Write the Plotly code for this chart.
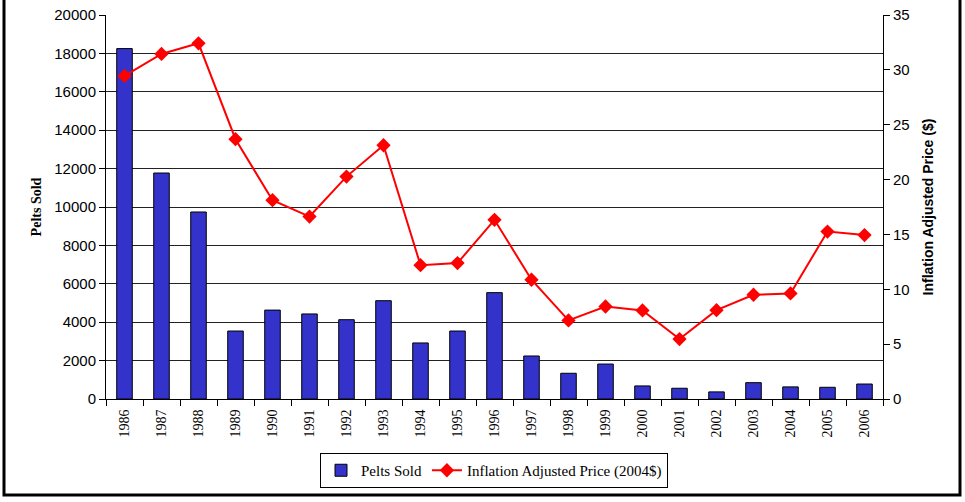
import plotly.graph_objects as go

years = [str(y) for y in range(1986, 2007)]
pelts_sold = [18250, 11770, 9740, 3540, 4630, 4430, 4130, 5120, 2920, 3540,
              5540, 2240, 1340, 1820, 680, 560, 370, 850, 630, 610, 780]
price_2004 = [29.45, 31.45, 32.42, 23.68, 18.12, 16.63, 20.27, 23.13, 12.2, 12.39,
              16.33, 10.87, 7.16, 8.43, 8.07, 5.46, 8.1, 9.5, 9.62, 15.26, 14.94]

left_ticks = list(range(0, 20001, 2000))
right_ticks = list(range(0, 36, 5))

fig = go.Figure()
fig.add_trace(go.Bar(
    x=years, y=pelts_sold, name="Pelts Sold",
    marker=dict(color="#3333CC", line=dict(color="black", width=1)),
    width=0.42, yaxis="y",
))
fig.add_trace(go.Scatter(
    x=years, y=price_2004, name="Inflation Adjusted Price (2004$)",
    mode="lines+markers",
    line=dict(color="#FF0000", width=2),
    marker=dict(symbol="diamond", size=11, color="#FF0000"),
    yaxis="y2",
))

L, R, T, B = 106, 82, 15, 103
H = 502 - T - B
W = 965 - L - R

def px(x):
    return (x - L) / W

def py(y):
    return (502 - B - y) / H

fig.update_layout(
    width=965, height=502,
    margin=dict(l=L, r=R, t=T, b=B, pad=0, autoexpand=False),
    paper_bgcolor="white", plot_bgcolor="white",
    showlegend=True,
    legend=dict(
        orientation="h", x=px(494), xanchor="center", y=py(453), yanchor="top",
        bordercolor="black", borderwidth=1, bgcolor="white",
        font=dict(family="Liberation Serif", size=15, color="black"),
        traceorder="normal", tracegroupgap=0,
    ),
    xaxis=dict(
        type="category", range=[-0.5, 20.5], automargin=False,
        showline=True, linecolor="black", linewidth=1,
        ticks="outside", ticklen=6, tickcolor="black", tickson="boundaries",
        ticklabelstandoff=4,
        tickangle=-90, tickfont=dict(family="Liberation Serif", size=14, color="black"),
        showgrid=False,
    ),
    yaxis=dict(
        range=[0, 20000], tickvals=left_ticks, ticktext=[str(v) for v in left_ticks],
        automargin=False,
        showline=True, linecolor="black", linewidth=1,
        ticks="outside", ticklen=6, tickcolor="black",
        showgrid=True, gridcolor="#222222", gridwidth=1,
        tickfont=dict(family="Liberation Sans", size=15, color="black"),
        title=dict(text="<b>Pelts Sold</b>", standoff=9,
                   font=dict(family="Liberation Serif", size=14, color="black")),
        zeroline=False,
    ),
    yaxis2=dict(
        range=[0, 35], tickvals=right_ticks, ticktext=[str(v) for v in right_ticks],
        overlaying="y", side="right", automargin=False,
        showline=True, linecolor="black", linewidth=1,
        ticks="outside", ticklen=6, tickcolor="black",
        showgrid=False, zeroline=False,
        tickfont=dict(family="Liberation Sans", size=15, color="black"),
        title=dict(text="<b>Inflation Adjusted Price ($)</b>", standoff=14,
                   font=dict(family="Liberation Sans", size=14, color="black")),
    ),
    shapes=[dict(
        type="rect", xref="paper", yref="paper",
        x0=px(4), x1=px(960), y0=py(495), y1=py(-3),
        line=dict(color="black", width=3), fillcolor="rgba(0,0,0,0)",
        layer="below",
    )],
)

fig.write_html("out.html", config={"displayModeBar": False},
               post_script="document.body.style.margin='0px';document.body.style.overflow='hidden';")
